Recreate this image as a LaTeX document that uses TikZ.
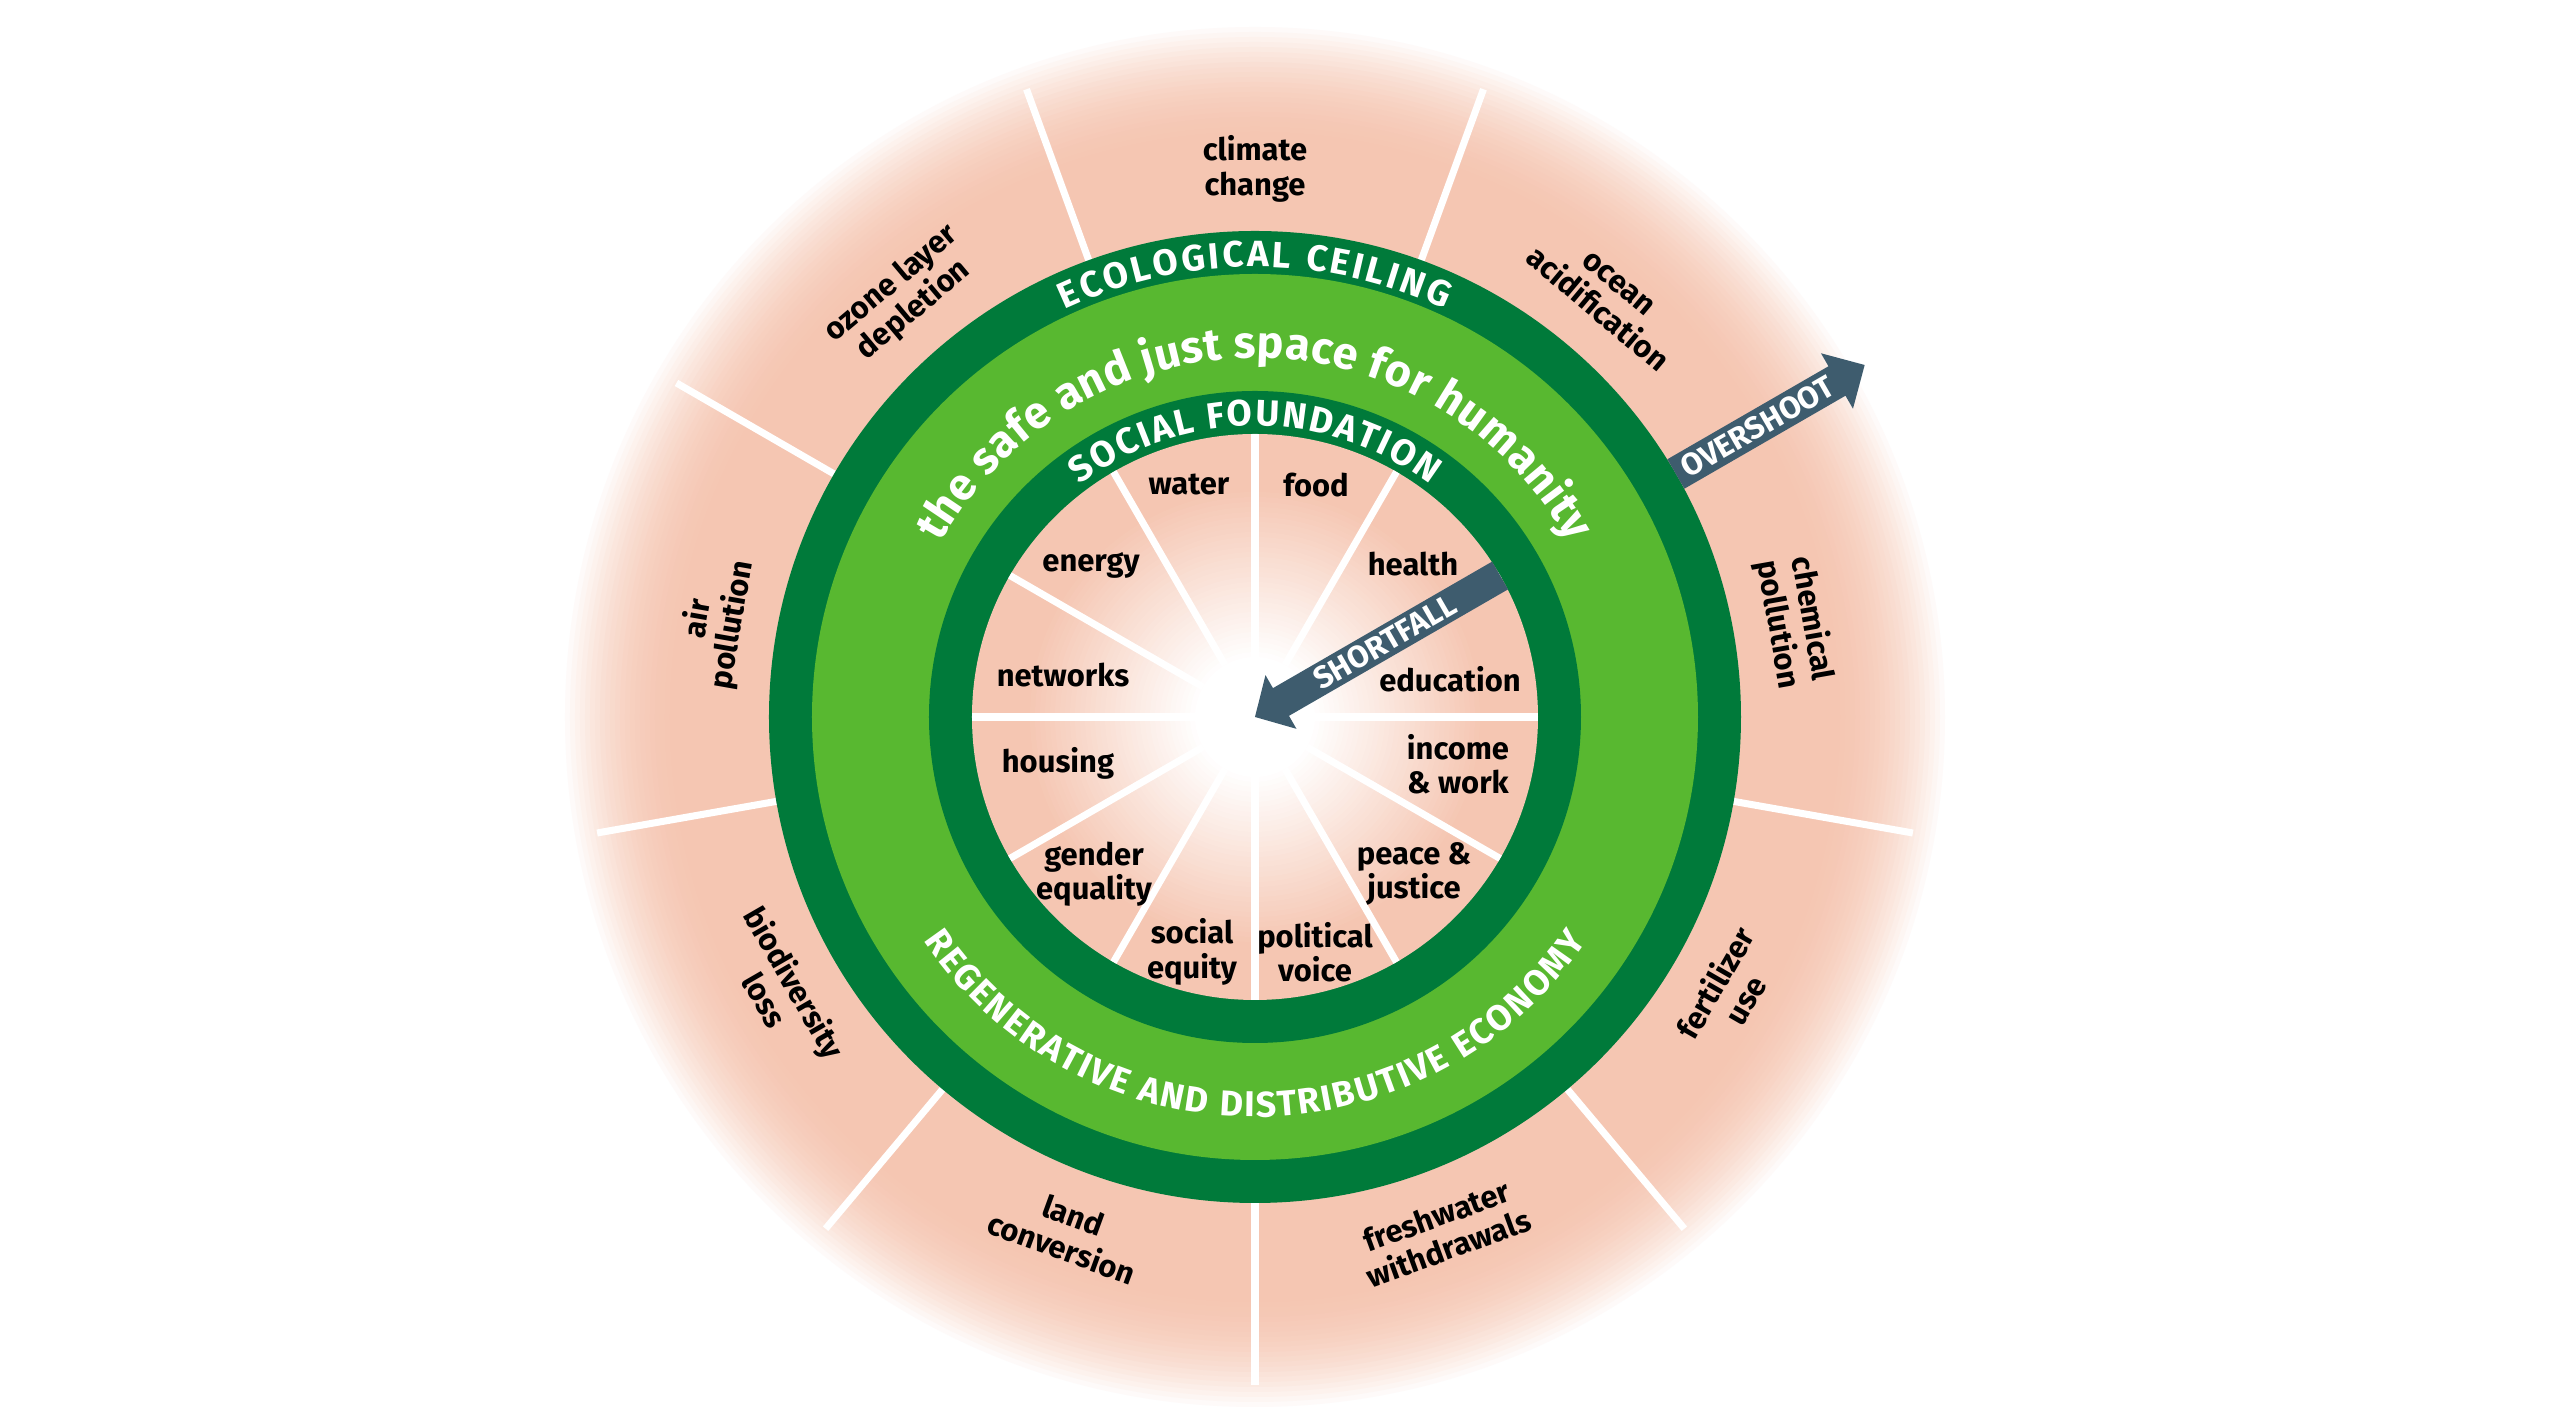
\documentclass[tikz,border=0pt]{standalone}
\usepackage{fontspec}
\setmainfont{Fira Sans}
\usetikzlibrary{decorations.text}
\definecolor{dkgreen}{RGB}{0,122,58}
\definecolor{ltgreen}{RGB}{88,184,48}
\definecolor{dpink}{RGB}{245,198,178}
\definecolor{arrowc}{RGB}{62,92,110}
\begin{document}
\begin{tikzpicture}[x=0.01cm,y=0.01cm,
  lab/.style={font=\fontsize{8.8pt}{9.8pt}\selectfont\bfseries, align=center, text=black, inner sep=0pt},
  arrtxt/.style={font=\fontsize{8.8pt}{10pt}\selectfont\bfseries, text=white, inner sep=0pt, rotate=30},
  wline/.style={white, line width=2pt},
  ringtxt/.style={decorate, decoration={text along path, text align=fit to path, text color=white, text={#1}}}
  ]
\useasboundingbox (-1255,-699) rectangle (1305,717);
% outer pink halo
\foreach \i in {0,...,24} {
  \pgfmathsetmacro\rr{695-5*\i}
  \pgfmathsetmacro\pp{100*(1-(1-\i/24)*(1-\i/24))}
  \fill[dpink!\pp!white] (0,0) circle[radius=\rr];
}
\foreach \a in {110,70,30,-10,-50,-90,-130,-170,150} \draw[wline] (\a:486) -- (\a:668);
% rings
\fill[dkgreen] (0,0) circle[radius=486];
\fill[ltgreen] (0,0) circle[radius=443];
\fill[dkgreen] (0,0) circle[radius=326];
\fill[dpink] (0,0) circle[radius=283];
\foreach \i in {0,...,34} {
  \pgfmathsetmacro\rr{230-5*\i}
  \pgfmathsetmacro\pp{100*(1-\i/34)}
  \fill[dpink!\pp!white] (0,0) circle[radius=\rr];
}
\foreach \a in {0,30,...,330} \draw[wline] (\a:60) -- (\a:283);

% outer labels
\node[lab] (cc) at (90:548) {climate\\change};
\node[lab, rotate=-40] (oa) at (50:548) {ocean\\acidification};
\node[lab, rotate=-80] (cp) at (10:548) {chemical\\pollution};
\node[lab, rotate=60] (fu) at (-30:548) {fertilizer\\use};
\node[lab, rotate=20] (fw) at (-70:548) {freshwater\\withdrawals};
\node[lab, rotate=-20] (lc) at (-110:548) {land\\conversion};
\node[lab, rotate=-60] (bl) at (-150:548) {biodiversity\\loss};
\node[lab, rotate=80] (ap) at (170:548) {air\\pollution};
\node[lab, rotate=40] (oz) at (130:548) {ozone layer\\depletion};

% inner labels
\node[lab] (wa) at (-66,232) {water};
\node[lab] (fo) at (61,232) {food};
\node[lab] (en) at (-164,152) {energy};
\node[lab] (he) at (158,153) {health};
\node[lab] (ne) at (-192,42) {networks};
\node[lab] (ed) at (195,38) {education};
\node[lab] (ho) at (-197,-46) {housing};
\node[lab] (iw) at (203,-47) {income\\\& work};
\node[lab] (ge) at (-161,-157) {gender\\equality};
\node[lab] (pj) at (159,-157) {peace \&\\justice};
\node[lab] (se) at (-63,-235) {social\\equity};
\node[lab] (pv) at (60,-235) {political\\voice};

% ring texts
\path[ringtxt={|\fontsize{10.4pt}{11pt}\selectfont\bfseries|ECOLOGICAL CEILING}]
  (115:450) arc[start angle=115, end angle=65, radius=450];
\path[ringtxt={|\fontsize{10.4pt}{11pt}\selectfont\bfseries|SOCIAL FOUNDATION}]
  (127:291) arc[start angle=127, end angle=53, radius=291];
\path[ringtxt={|\fontsize{12.8pt}{13pt}\selectfont\bfseries|the safe and just space for humanity}]
  (151:359) arc[start angle=151, end angle=29, radius=359];
\path[ringtxt={|\fontsize{10.2pt}{11pt}\selectfont\bfseries|REGENERATIVE AND DISTRIBUTIVE ECONOMY}]
  (214:400) arc[start angle=214, end angle=326, radius=400];

% arrows
\begin{scope}[rotate=30]
\fill[arrowc] (486,-17) -- (672,-17) -- (672,-32) -- (704,0) -- (672,32) -- (672,17) -- (486,17) -- cycle;
\fill[arrowc] (283,-16) -- (30,-16) -- (30,-31) -- (0,0) -- (30,31) -- (30,16) -- (283,16) -- cycle;
\end{scope}
\node[arrtxt] (ov) at (30:580) {OVERSHOOT};
\node[arrtxt] (sf) at (30:150) {SHORTFALL};
\end{tikzpicture}
\end{document}
